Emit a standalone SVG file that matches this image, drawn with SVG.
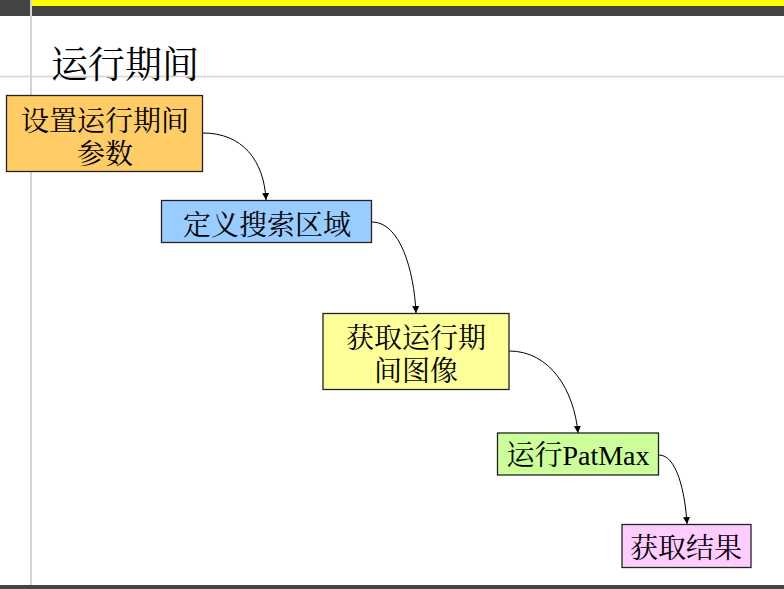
<svg xmlns="http://www.w3.org/2000/svg" width="784" height="589" viewBox="0 0 784 589">
<defs>
<style>
.box{stroke:#222;stroke-width:1.3}
.t{font-family:"Liberation Serif","Noto Serif CJK SC","Noto Sans CJK SC",serif;font-size:28px;fill:#000;text-anchor:middle}
.c{fill:none;stroke:#000;stroke-width:1}
</style>
<marker id="ah" viewBox="0 0 10 10" refX="10" refY="5" markerWidth="7" markerHeight="7" orient="auto" markerUnits="userSpaceOnUse">
<path d="M0,0 L10,5 L0,10 z" fill="#000"/>
</marker>
</defs>
<rect width="784" height="589" fill="#fff"/>
<rect x="0" y="0" width="784" height="16" fill="#444"/>
<rect x="31" y="0" width="753" height="6" fill="#ffff00"/>
<line x1="31" y1="0" x2="31" y2="589" stroke="#d4d4d4" stroke-width="2"/>
<line x1="0" y1="76.5" x2="784" y2="76.5" stroke="#d4d4d4" stroke-width="1.5"/>
<rect x="0" y="585" width="784" height="4" fill="#444"/>
<text x="51" y="78" style="font-family:'Liberation Serif','Noto Serif CJK SC','Noto Sans CJK SC',serif;font-size:37px">运行期间</text>
<g id="connectors">
<path class="c" d="M203,133 C242,133 264,160 266,200" marker-end="url(#ah)"/>
<path class="c" d="M372,222 C400,222 414,270 416,313" marker-end="url(#ah)"/>
<path class="c" d="M509,351 C550,351 574,390 578,433" marker-end="url(#ah)"/>
<path class="c" d="M659,455 C676,455 685,490 687,524" marker-end="url(#ah)"/>
</g>
<g id="n1">
<rect class="box" x="6.5" y="95.5" width="196" height="76" fill="#ffcc66"/>
<text class="t" x="105" y="131">设置运行期间</text>
<text class="t" x="105" y="164">参数</text>
</g>
<g id="n2">
<rect class="box" x="161.5" y="200.5" width="210" height="42" fill="#99ccff"/>
<text class="t" x="267" y="235">定义搜索区域</text>
</g>
<g id="n3">
<rect class="box" x="323" y="313.5" width="186" height="76" fill="#ffff99"/>
<text class="t" x="416" y="348">获取运行期</text>
<text class="t" x="416" y="381">间图像</text>
</g>
<g id="n4">
<rect class="box" x="497.5" y="433" width="161" height="42" fill="#ccff99"/>
<text class="t" x="578" y="465">运行PatMax</text>
</g>
<g id="n5">
<rect class="box" x="622" y="524.5" width="129" height="43" fill="#ffccff"/>
<text class="t" x="686" y="558">获取结果</text>
</g>
</svg>
